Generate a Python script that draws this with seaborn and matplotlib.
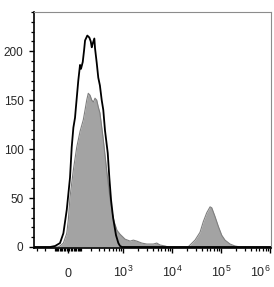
#!/usr/bin/env python3
"""Flow cytometry overlay histogram: control (outline) vs stained (filled)."""

import matplotlib as mpl
import matplotlib.pyplot as plt
import pandas as pd
import seaborn as sns

mpl.use("Agg")

# Control sample (black outline): fluorescence intensity -> event count
CTRL_X = [-356, -260, -142, -97, -58, -33, -9, 14, 26, 38, 50, 55, 75, 89, 97,
          112, 124, 133, 155, 176, 192, 204, 216, 236, 245, 269, 292, 318,
          349, 378, 412, 472, 510, 555, 612, 705, 789, 855, 940, 1030000]
CTRL_Y = [0, 0, 0, 1, 4, 14, 38, 71, 102, 122, 132, 140, 170, 186, 182,
          189, 201, 211, 216, 214, 210, 204, 208, 213, 203, 188, 173, 165,
          150, 140, 119, 96, 71, 48, 30, 12, 4, 1, 0, 0]

# Stained sample (grey fill)
STAIN_X = [-356, -73, -58, -33, -9, 2, 14, 38, 63, 89, 117, 133, 149, 165,
           184, 204, 224, 245, 269, 292, 318, 373, 456, 528, 582, 642, 739,
           855, 987, 1085, 1376, 1607, 1886, 2385, 3017, 4110, 4825, 5640,
           7130, 8200, 20990, 23000, 29100, 36800, 43000, 50500, 59000,
           63900, 74500, 87000, 102000, 119000, 150700, 190600, 241000,
           1030000]
STAIN_Y = [0, 0, 1, 4, 14, 28, 51, 79, 102, 118, 130, 140, 150, 157, 155,
           150, 148, 152, 150, 143, 137, 112, 75, 50, 36, 26, 17, 13, 10, 8,
           6, 7, 6, 4, 3, 3, 4, 2, 1, 0, 0, 2, 7, 15, 26, 35, 41, 40, 31,
           21, 12, 7, 3, 1, 0, 0]

X_TICKS = [0, 1e3, 1e4, 1e5, 1e6]
X_TICKLABELS = ["0", "10$^{3}$", "10$^{4}$", "10$^{5}$", "10$^{6}$"]
Y_TICKS = [0, 50, 100, 150, 200]

sns.set_theme(style="ticks")
plt.rcParams["font.family"] = ["Liberation Sans", "DejaVu Sans"]
plt.rcParams["mathtext.fontset"] = "custom"
plt.rcParams["mathtext.rm"] = "Liberation Sans"
plt.rcParams["mathtext.it"] = "Liberation Sans:italic"


def main():
    ctrl = pd.DataFrame({"x": CTRL_X, "y": CTRL_Y})
    stain = pd.DataFrame({"x": STAIN_X, "y": STAIN_Y})

    fig = plt.figure(figsize=(2.74, 2.87), dpi=100)
    ax = fig.add_axes([0.124, 0.136, 0.865, 0.822])
    ax.set_xscale("asinh", linear_width=150)

    # Stained: grey fill with slightly darker edge
    ax.fill_between(stain["x"], stain["y"], 0, color="#a3a3a3", lw=0)
    sns.lineplot(data=stain, x="x", y="y", ax=ax, color="#7f7f7f", lw=0.8,
                 sort=False, estimator=None)
    # Control: black outline on top
    sns.lineplot(data=ctrl, x="x", y="y", ax=ax, color="black", lw=1.3,
                 sort=False, estimator=None)

    ax.set_xlim(-356, 1.03e6)
    ax.set_ylim(-1, 240)

    # Ticks
    minor_x = ([-300, -200, -100] + list(range(-90, 0, 10))
               + list(range(10, 100, 10)) + list(range(100, 1000, 100))
               + [m * 10 ** e for e in (3, 4, 5) for m in range(2, 10)])
    ax.set_xticks(X_TICKS)
    ax.set_xticklabels(X_TICKLABELS)
    ax.set_xticks(minor_x, minor=True)
    ax.set_yticks(Y_TICKS)
    ax.set_yticks([v for v in range(0, 241, 10) if v % 50], minor=True)

    ax.tick_params(axis="both", which="major", direction="out", length=3.5,
                   width=1.0, color="black", labelsize=8.5)
    ax.tick_params(axis="x", which="major", labelsize=9, pad=17.5)
    ax.tick_params(axis="both", which="minor", direction="out", length=2,
                   width=0.9, color="black")
    ax.tick_params(axis="y", which="major", pad=4)
    xlabels = ax.get_xticklabels()
    for lab in xlabels:
        lab.set_verticalalignment("baseline")
    xlabels[-1].set_horizontalalignment("right")

    for side in ("left", "bottom"):
        ax.spines[side].set_color("black")
        ax.spines[side].set_linewidth(1.2)
    for side in ("top", "right"):
        ax.spines[side].set_color("#8c8c8c")
        ax.spines[side].set_linewidth(0.8)

    ax.set_xlabel("")
    ax.set_ylabel("")
    fig.savefig("out.png", dpi=100)


if __name__ == "__main__":
    main()
